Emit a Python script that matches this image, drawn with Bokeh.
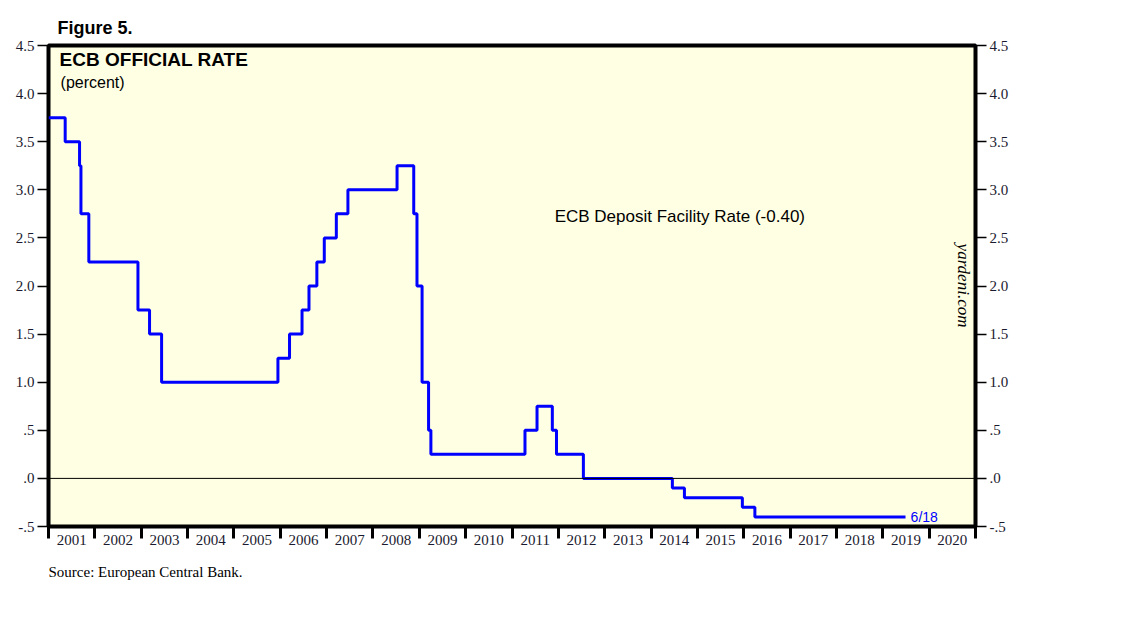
import math
from bokeh.plotting import figure
from bokeh.models import (Range1d, LinearAxis, FixedTicker, CustomJSTickFormatter,
                          Label, Span, Title)
from bokeh.embed import file_html
from bokeh.resources import INLINE

# Step-change dates (decimal years) and ECB deposit facility rate (%)
change_dates = [2001.00, 2001.36, 2001.67, 2001.70, 2001.87, 2002.93, 2003.18, 2003.44,
                2005.95, 2006.20, 2006.47, 2006.62, 2006.79, 2006.95, 2007.21, 2007.46,
                2008.52, 2008.88, 2008.95, 2009.06, 2009.20, 2009.25, 2011.28, 2011.54,
                2011.87, 2011.96, 2012.54, 2014.46, 2014.72, 2015.97, 2016.24, 2019.49]
rates = [3.75, 3.50, 3.25, 2.75, 2.25, 1.75, 1.50, 1.00,
         1.25, 1.50, 1.75, 2.00, 2.25, 2.50, 2.75, 3.00,
         3.25, 2.75, 2.00, 1.00, 0.50, 0.25, 0.50, 0.75,
         0.50, 0.25, 0.00, -0.10, -0.20, -0.30, -0.40, -0.40]

year_labels = [str(y) for y in range(2001, 2021)]
year_bounds = list(range(2001, 2022))
y_ticks = [-0.5, 0.0, 0.5, 1.0, 1.5, 2.0, 2.5, 3.0, 3.5, 4.0, 4.5]

W, H = 1122, 600
p = figure(width=W, height=H, output_backend="svg", toolbar_location=None,
           x_range=Range1d(2001, 2021), y_range=Range1d(-0.5, 4.5),
           x_axis_location=None, y_axis_location=None,
           min_border_left=48, min_border_right=W - 975,
           min_border_top=45, min_border_bottom=H - 526)
p.background_fill_color = "#FFFFE3"
p.border_fill_color = "white"
p.outline_line_color = "black"
p.outline_line_width = 4
p.xgrid.visible = False
p.ygrid.visible = False

p.title.text = "Figure 5."
p.title.align = "left"
p.title.offset = 9
p.title.standoff = 16
p.title.text_font = "Liberation Sans"
p.title.text_font_size = "18px"
p.title.text_font_style = "bold"
p.title.text_color = "black"

fmt = CustomJSTickFormatter(code="""
let s = tick.toFixed(1);
if (s.startsWith('0.')) s = s.slice(1);
if (s.startsWith('-0.')) s = '-' + s.slice(2);
return s;
""")

def style_y(ax):
    ax.ticker = FixedTicker(ticks=y_ticks)
    ax.formatter = fmt
    ax.axis_line_color = None
    ax.major_tick_in = 0
    ax.major_tick_out = 11
    ax.major_tick_line_width = 1.5
    ax.major_tick_line_color = "black"
    ax.minor_tick_line_color = None
    ax.major_label_text_font = "Liberation Serif"
    ax.major_label_text_font_size = "15px"
    ax.major_label_text_color = "#1a1a2e"
    ax.major_label_standoff = 3

yl = LinearAxis()
style_y(yl)
p.add_layout(yl, "left")
yr = LinearAxis()
style_y(yr)
p.add_layout(yr, "right")

mids = [y + 0.5 for y in range(2001, 2021)]
xb = LinearAxis(ticker=FixedTicker(ticks=mids, minor_ticks=year_bounds))
xb.major_label_overrides = {m: lab for m, lab in zip(mids, year_labels)}
xb.axis_line_color = None
xb.major_tick_line_color = None
xb.major_tick_in = 0
xb.major_tick_out = 0
xb.minor_tick_in = 0
xb.minor_tick_out = 12
xb.minor_tick_line_width = 3
xb.minor_tick_line_color = "black"
xb.major_label_standoff = -4
xb.major_label_text_font = "Liberation Serif"
xb.major_label_text_font_size = "15px"
xb.major_label_text_color = "#1a1a2e"
p.add_layout(xb, "below")

src = Title(text="Source: European Central Bank.", align="left", offset=0, standoff=29,
            text_font="Liberation Serif", text_font_size="15px", text_font_style="normal",
            text_color="black")
p.add_layout(src, "below")

p.add_layout(Span(location=0, dimension="width", line_color="black", line_width=1))

p.step(change_dates, rates, mode="after", line_color="#0000FF", line_width=3)

def lab(x, y, text, **kw):
    kw.setdefault("text_color", "black")
    p.add_layout(Label(x=x, y=y, text=text, **kw))

lab(2001.24, 4.354, "ECB OFFICIAL RATE", text_font="Liberation Sans", text_font_size="19px",
    text_font_style="bold", text_baseline="middle")
lab(2001.26, 4.119, "(percent)", text_font="Liberation Sans", text_font_size="16px",
    text_baseline="middle")
lab(2011.92, 2.722, "ECB Deposit Facility Rate (-0.40)", text_font="Liberation Sans",
    text_font_size="17px", text_baseline="middle")
lab(2020.74, 2.005, "yardeni.com", text_font="Liberation Serif", text_font_size="17px",
    text_font_style="italic", text_baseline="middle", text_align="center",
    angle=-math.pi / 2)
lab(2019.60, -0.40, "6/18", text_font="Liberation Sans", text_font_size="14px",
    text_color="#0000FF", text_baseline="middle")

open("out.html", "w").write(file_html(p, INLINE))
